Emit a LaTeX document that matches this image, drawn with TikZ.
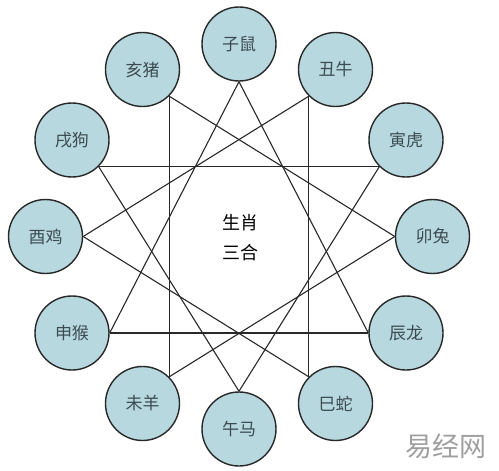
\documentclass[tikz,border=0pt]{standalone}
\usepackage{fontspec}
\newfontfamily\cjk{Noto Sans CJK SC}
\usetikzlibrary{positioning}
\definecolor{animalfill}{RGB}{183,216,222}
\definecolor{animaltext}{RGB}{60,75,82}
\definecolor{ringline}{RGB}{40,40,40}

\begin{document}
\begin{tikzpicture}[x=1pt,y=-1pt,
        animal/.style={circle,draw=ringline,line width=1.4pt,fill=animalfill,
            minimum size=74pt,inner sep=0pt,text=animaltext,
            font=\cjk\fontsize{17}{19}\selectfont},
        link/.style={draw=ringline,line width=1.1pt}]
        \useasboundingbox (0,0) rectangle (499,471);
        \node[animal] (zi) at (239,44) {子鼠};
        \node[animal] (chou) at (335.5,69.5) {丑牛};
        \node[animal] (yin) at (406,140) {寅虎};
        \node[animal] (mao) at (432.5,236.5) {卯兔};
        \node[animal] (chen) at (406,333) {辰龙};
        \node[animal] (si) at (335.5,403.5) {巳蛇};
        \node[animal] (wu) at (239,429) {午马};
        \node[animal] (wei) at (142.5,403.5) {未羊};
        \node[animal] (shen) at (72,333) {申猴};
        \node[animal] (you) at (45.5,236.5) {酉鸡};
        \node[animal] (xu) at (72,140) {戌狗};
        \node[animal] (hai) at (142.5,69.5) {亥猪};
        \node[align=center,text=black,font=\cjk\fontsize{18}{30}\selectfont] (title) at (240,238) {生肖\\三合};
        \node[text=gray!75,font=\cjk\fontsize{27}{29}\selectfont] (mark) at (446,446) {易经网};
        \draw[link] (zi.-90) -- (shen.0);
        \draw[link] (zi.-90) -- (chen.180);
        \draw[link] (shen.0) -- (chen.180);
        \draw[link] (hai.-45) -- (mao.180);
        \draw[link] (hai.-45) -- (wei.45);
        \draw[link] (mao.180) -- (wei.45);
        \draw[link] (yin.-135) -- (wu.90);
        \draw[link] (yin.-135) -- (xu.-45);
        \draw[link] (xu.-45) -- (wu.90);
        \draw[link] (chou.-135) -- (you.0);
        \draw[link] (chou.-135) -- (si.135);
        \draw[link] (you.0) -- (si.135);
    \end{tikzpicture}
\end{document}
